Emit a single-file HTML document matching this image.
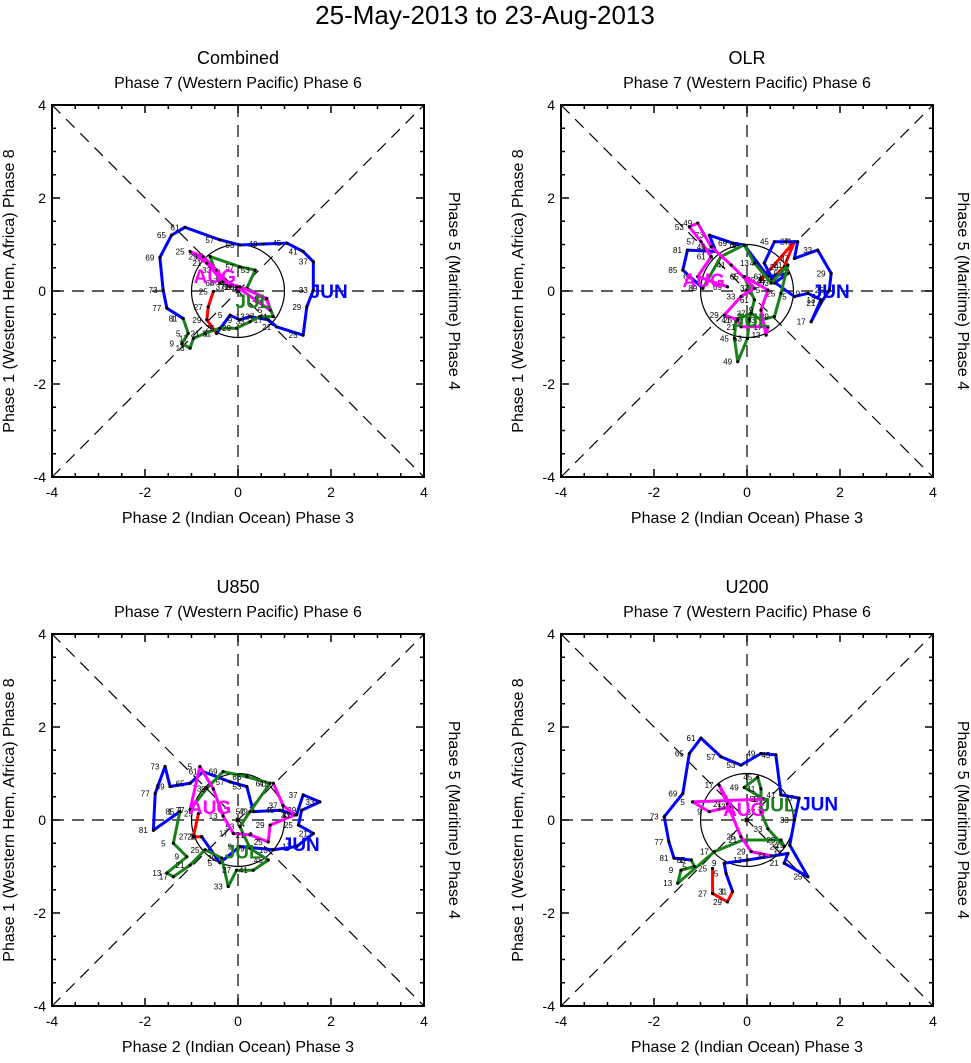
<!DOCTYPE html>
<html><head><meta charset="utf-8"><style>
body{margin:0;background:#fff;width:971px;height:1058px;overflow:hidden}
svg{font-family:"Liberation Sans",sans-serif}
</style></head><body>
<svg id="c" width="971" height="1058">
<text x="485" y="24" text-anchor="middle" font-size="26">25-May-2013 to 23-Aug-2013</text>
</svg>
<script>
// Panel: Combined
const comRed1=[-0.53,-0.64,-0.67,-0.46], comRed2=[-0.01,-0.34,-0.62,-0.91];
const comBlue1=[-0.46,-0.17,0.04,0.26,0.65,0.83,1.40,1.48,1.62,1.62,1.40,1.05,0.54,0.04,-0.39,-1.14,-1.43,-1.68,-1.61,-1.53,-1.18];
const comBlue2=[-0.91,-0.52,-0.62,-0.55,-0.62,-0.77,-0.95,-0.34,0.02,0.63,0.85,1.03,1.01,0.99,1.10,1.37,1.20,0.72,0.02,-0.37,-0.59];
const comGreen1=[-1.18,-1.07,-1.21,-1.03,-0.96,-0.71,-0.39,-0.03,0.26,0.47,0.76,0.62,0.19,0.37,0.04,-0.60,-0.39,-0.03];
const comGreen2=[-0.59,-0.91,-1.13,-1.23,-1.02,-0.91,-0.80,-0.80,-0.66,-0.55,-0.55,-0.19,0.06,0.45,0.52,0.74,0.17,0.09];
const comMag1=[-0.03,0.69,0.62,0.04,-0.32,-0.67,-1.03,-0.75,-0.46,-0.17];
const comMag2=[0.09,-0.41,-0.16,0.09,0.20,0.60,0.85,0.74,0.45,0.09];
// Panel: OLR
const olrRed1=[0.30,1.02,0.80,0.52], olrRed2=[0.24,1.06,0.52,0.24];
const olrBlue1=[0.52,1.02,1.31,1.59,1.38,1.59,1.77,1.81,1.52,1.02,1.09,0.59,0.37,0.59,0.88,0.45,-0.06,-0.31,-0.81,-0.67,-1.28,-1.38,-0.95];
const olrBlue2=[0.24,-0.12,-0.05,-0.19,-0.66,-0.26,0.02,0.38,0.88,0.70,1.06,1.06,0.60,0.17,0.38,0.31,0.99,1.03,1.20,0.85,0.88,0.45,0.06];
const olrGreen1=[-0.95,-0.56,-0.06,0.16,0.52,0.88,0.73,0.59,0.30,0.09,-0.24,-0.27,-0.20,0.01,0.05,0.16,-0.06];
const olrGreen2=[0.06,0.74,0.99,0.60,0.17,0.56,-0.05,-0.55,-0.62,-0.48,-0.62,-1.02,-1.52,-1.02,-0.62,-0.19,0.31];
const olrMag1=[-0.06,0.45,0.30,0.41,0.45,-0.13,-0.20,-0.49,-0.13,0.16,-0.34,-0.77,-1.06,-1.24,-0.99,-0.77,-1.06,-0.42];
const olrMag2=[0.31,0.02,-0.41,-0.95,-0.77,-0.77,-0.62,-0.52,-0.12,0.06,0.56,0.95,1.46,1.38,1.06,0.74,0.31,0.09];
// Panel: U850
const u85Red1=[-0.85,-0.96,-0.78], u85Red2=[0.14,-0.36,-0.36];
const u85Blue1=[-0.78,-0.39,0.04,0.76,1.26,1.62,1.30,1.37,1.76,1.40,1.26,0.90,0.33,0.19,-0.17,-0.75,-1.03,-1.46,-1.57,-1.78,-1.82,-1.25];
const u85Blue2=[-0.36,-0.92,-0.57,-0.64,-0.57,-0.29,-0.11,0.21,0.39,0.54,0.11,0.21,0.18,0.72,0.82,1.04,0.79,0.72,1.15,0.57,-0.22,0.18];
const u85Green1=[-1.25,-1.39,-1.10,-1.53,-1.39,-1.03,-0.71,-0.35,-0.21,-0.03,0.33,0.65,0.26,0.04,0.26,0.69,0.19,-0.32,-0.67,-1.03];
const u85Green2=[0.18,-0.50,-0.79,-1.14,-1.22,-0.97,-0.64,-0.82,-1.43,-1.08,-1.08,-0.86,-0.61,-0.14,0.18,0.79,0.93,1.04,0.68,0.22];
const u85Mag1=[-1.03,-0.82,-0.53,-0.32,-0.10,0.26,0.65,0.69,1.23,0.97,0.76];
const u85Mag2=[0.22,1.15,0.67,0.09,-0.29,-0.32,-0.47,-0.11,0.11,0.31,0.79];
// Panel: U200
const u2Red1=[-0.74,-0.74,-0.42,-0.31], u2Red2=[-1.04,-1.58,-1.76,-1.54];
const u2Blue1=[-0.31,-0.45,-0.49,0.01,0.88,0.80,1.31,0.92,1.02,1.12,0.73,0.62,0.30,-0.13,-0.56,-0.99,-1.24,-1.38,-1.78,-1.68,-1.57,-1.20];
const u2Blue2=[-1.54,-1.15,-0.93,-0.86,-0.72,-0.93,-1.22,-0.54,0.00,0.47,0.54,1.40,1.43,1.18,1.36,1.76,1.43,0.57,0.07,-0.47,-0.82,-0.86];
const u2Green1=[-1.20,-1.13,-1.42,-1.49,-0.70,-0.09,0.73,0.80,0.45,0.30,0.30,0.23,-0.06,0.37];
const u2Green2=[-0.86,-1.00,-1.08,-1.36,-0.68,-0.43,-0.43,-0.57,-0.19,0.17,0.67,0.92,0.70,0.45];
const u2Mag1=[0.37,-1.17,-0.81,-0.34,-0.60,-0.42,-0.13,0.09,0.52];
const u2Mag2=[0.45,0.39,0.18,0.29,0.75,0.34,-0.36,-0.68,-0.77];

const panels=[
 {name:'combined',title:'Combined',x0:52,y0:105,series:[[comRed1,comRed2,'#ff0000',25],[comBlue1,comBlue2,'#0000ff',1],[comGreen1,comGreen2,'#1a801a',1],[comMag1,comMag2,'#ff00ff',1]],lab:[[1.95,0,'JUN','#0000ff'],[0.33,-0.22,'JUL','#1a801a'],[-0.5,0.32,'AUG','#ff00ff']]},
 {name:'olr',title:'OLR',x0:561,y0:105,series:[[olrRed1,olrRed2,'#ff0000',25],[olrBlue1,olrBlue2,'#0000ff',1],[olrGreen1,olrGreen2,'#1a801a',1],[olrMag1,olrMag2,'#ff00ff',1]],lab:[[1.8,0,'JUN','#0000ff'],[0.1,-0.62,'JUL','#1a801a'],[-0.93,0.24,'AUG','#ff00ff']]},
 {name:'u850',title:'U850',x0:52,y0:634,series:[[u85Red1,u85Red2,'#ff0000',25],[u85Blue1,u85Blue2,'#0000ff',1],[u85Green1,u85Green2,'#1a801a',1],[u85Mag1,u85Mag2,'#ff00ff',1]],lab:[[1.35,-0.52,'JUN','#0000ff'],[0.1,-0.68,'JUL','#1a801a'],[-0.6,0.28,'AUG','#ff00ff']]},
 {name:'u200',title:'U200',x0:561,y0:634,series:[[u2Red1,u2Red2,'#ff0000',25],[u2Blue1,u2Blue2,'#0000ff',1],[u2Green1,u2Green2,'#1a801a',1],[u2Mag1,u2Mag2,'#ff00ff',1]],lab:[[1.55,0.36,'JUN','#0000ff'],[0.66,0.33,'JUL','#1a801a'],[-0.06,0.24,'AUG','#ff00ff']]}
];
const svg=document.getElementById('c');const NS='http://www.w3.org/2000/svg';
function mk(t,a,p){const e=document.createElementNS(NS,t);for(const k in a)e.setAttribute(k,a[k]);(p||svg).appendChild(e);return e;}
const W=372,S=W/8;
panels.forEach(P=>{
 const g=mk('g',{});
 
 
 const sx=v=>P.x0+(v+4)*S, sy=v=>P.y0+(4-v)*S;
 const cx=sx(0),cy=sy(0);
 let t=mk('text',{x:cx,y:P.y0-41,'text-anchor':'middle','font-size':18},g);t.textContent=P.title;
 
 t=mk('text',{x:cx,y:P.y0-17,'text-anchor':'middle','font-size':16},g);t.textContent='Phase 7 (Western Pacific) Phase 6';
 
 t=mk('text',{x:cx,y:P.y0+W+46,'text-anchor':'middle','font-size':16},g);t.textContent='Phase 2 (Indian Ocean) Phase 3';
 
 t=mk('text',{x:0,y:0,'text-anchor':'middle','font-size':16,transform:`translate(${P.x0-38},${cy}) rotate(-90)`},g);t.textContent='Phase 1 (Western Hem, Africa) Phase 8';
 
 t=mk('text',{x:0,y:0,'text-anchor':'middle','font-size':16,transform:`translate(${P.x0+W+25},${cy}) rotate(90)`},g);t.textContent='Phase 5 (Maritime) Phase 4';
 
 const d='12,8';
 [[sx(-4),sy(-4),sx(4),sy(4)],[sx(-4),sy(4),sx(4),sy(-4)],[sx(-4),cy,sx(4),cy],[cx,sy(-4),cx,sy(4)]].forEach(l=>{
  const e=mk('line',{x1:l[0],y1:l[1],x2:l[2],y2:l[3],stroke:'#000','stroke-width':1.2,'stroke-dasharray':d},g);
  });
 const c=mk('circle',{cx:cx,cy:cy,r:S,fill:'none',stroke:'#000','stroke-width':1.2},g);
 
 for(let v=-4;v<=4;v+=0.5){const maj=v%2===0,L=maj?8:4;
  mk('line',{x1:sx(v),y1:P.y0+W,x2:sx(v),y2:P.y0+W-L,stroke:'#000','stroke-width':1.5},g);
  mk('line',{x1:sx(v),y1:P.y0,x2:sx(v),y2:P.y0+L,stroke:'#000','stroke-width':1.5},g);
  mk('line',{x1:P.x0,y1:sy(v),x2:P.x0+L,y2:sy(v),stroke:'#000','stroke-width':1.5},g);
  mk('line',{x1:P.x0+W,y1:sy(v),x2:P.x0+W-L,y2:sy(v),stroke:'#000','stroke-width':1.5},g);
  if(maj){let a=mk('text',{x:sx(v),y:P.y0+W+20,'text-anchor':'middle','font-size':14},g);a.textContent=v;
   
   a=mk('text',{x:P.x0-6,y:sy(v)+5,'text-anchor':'end','font-size':14},g);a.textContent=v;
   }
 }
 P.series.forEach(s=>{
  const pts=s[0].map((v,i)=>sx(v)+','+sy(s[1][i])).join(' ');
  const pl=mk('polyline',{points:pts,fill:'none',stroke:s[2],'stroke-width':3,'stroke-linejoin':'round'},g);
  
  s[0].forEach((v,i)=>{
   mk('circle',{cx:sx(v),cy:sy(s[1][i]),r:1.6,fill:'#000'},g);
   const n=mk('text',{x:sx(v)-10,y:sy(s[1][i])+3,'font-size':8,'text-anchor':'middle'},g);n.textContent=s[3]+i*(s[3]===25?2:4);
   
  });
 });
 P.lab.forEach(l=>{const e=mk('text',{x:sx(l[0]),y:sy(l[1])+7,'text-anchor':'middle','font-size':19,'font-weight':'bold',fill:l[3]},g);e.textContent=l[2];
  });
 const fr=mk('rect',{x:P.x0,y:P.y0,width:W,height:W,fill:'none',stroke:'#000','stroke-width':2},g);
 
});
</script>
</body></html>
